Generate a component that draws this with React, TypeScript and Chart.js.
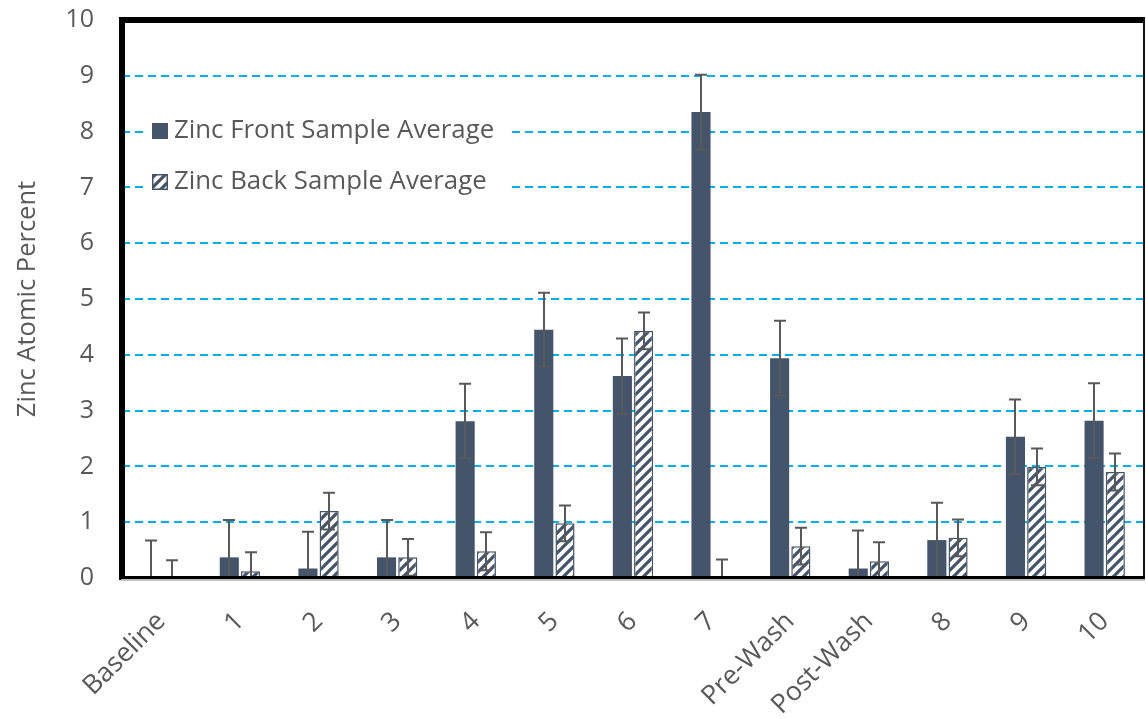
import React, { useEffect, useRef } from "react";
import { Chart, registerables } from "chart.js";

Chart.register(...registerables);

const categories = ["Baseline", "1", "2", "3", "4", "5", "6", "7", "Pre-Wash", "Post-Wash", "8", "9", "10"];
const frontValues = [0, 0.37, 0.17, 0.37, 2.81, 4.45, 3.62, 8.35, 3.94, 0.17, 0.68, 2.53, 2.82];
const frontErrors = [0.67, 0.67, 0.66, 0.67, 0.67, 0.66, 0.67, 0.67, 0.67, 0.68, 0.67, 0.67, 0.67];
const backValues = [0, 0.12, 1.2, 0.37, 0.48, 0.98, 4.43, 0, 0.57, 0.3, 0.72, 1.99, 1.9];
const backErrors = [0.32, 0.34, 0.33, 0.33, 0.34, 0.32, 0.33, 0.33, 0.33, 0.34, 0.33, 0.33, 0.33];
const seriesNames = ["Zinc Front Sample Average", "Zinc Back Sample Average"];
const yTickValues = [0, 1, 2, 3, 4, 5, 6, 7, 8, 9, 10];
const yTitle = "Zinc Atomic Percent";

const DARK = "#44546A";
const TEXT = "#595959";
const FONT = "'Open Sans', 'DejaVu Sans', sans-serif";

function makeHatch(): CanvasPattern | string {
  const c = document.createElement("canvas");
  c.width = 10;
  c.height = 10;
  const g = c.getContext("2d");
  if (!g) return "#fff";
  g.fillStyle = "#ffffff";
  g.fillRect(0, 0, 10, 10);
  g.strokeStyle = DARK;
  g.lineWidth = 3.2;
  g.lineCap = "square";
  g.beginPath();
  g.moveTo(0, 10);
  g.lineTo(10, 0);
  g.moveTo(-5, 5);
  g.lineTo(5, -5);
  g.moveTo(5, 15);
  g.lineTo(15, 5);
  g.stroke();
  return g.createPattern(c, "repeat") || "#fff";
}

export default function App() {
  const ref = useRef<HTMLCanvasElement | null>(null);

  useEffect(() => {
    if (!ref.current) return;
    const hatch = makeHatch();
    const errors = [frontErrors, backErrors];

    const errorBarPlugin = {
      id: "errorBars",
      afterDatasetsDraw(chart: any) {
        const ctx = chart.ctx;
        const y = chart.scales.y;
        const area = chart.chartArea;
        ctx.save();
        ctx.beginPath();
        ctx.rect(area.left, area.top, area.right - area.left, area.bottom - area.top);
        ctx.clip();
        ctx.strokeStyle = TEXT;
        ctx.lineWidth = 2;
        chart.data.datasets.forEach((ds: any, di: number) => {
          const meta = chart.getDatasetMeta(di);
          meta.data.forEach((bar: any, j: number) => {
            const v = ds.data[j];
            const e = errors[di][j];
            const yt = y.getPixelForValue(v + e);
            const yb = y.getPixelForValue(v - e);
            const x = Math.round(bar.x);
            ctx.beginPath();
            ctx.moveTo(x, yt);
            ctx.lineTo(x, yb);
            ctx.moveTo(x - 6, yt);
            ctx.lineTo(x + 6, yt);
            ctx.moveTo(x - 6, yb);
            ctx.lineTo(x + 6, yb);
            ctx.stroke();
          });
        });
        ctx.restore();
      },
    };

    const frameLegendPlugin = {
      id: "frameLegend",
      afterDraw(chart: any) {
        const ctx = chart.ctx;
        const a = chart.chartArea;
        ctx.save();
        // legend box
        ctx.fillStyle = "#ffffff";
        ctx.fillRect(143, 103, 364, 108);
        ctx.fillStyle = DARK;
        ctx.fillRect(152, 123, 16, 16);
        ctx.fillStyle = hatch as any;
        ctx.fillRect(152, 174, 16, 16);
        ctx.strokeStyle = DARK;
        ctx.lineWidth = 1.5;
        ctx.strokeRect(152.75, 174.75, 14.5, 14.5);
        ctx.fillStyle = TEXT;
        ctx.font = `25.8px ${FONT}`;
        ctx.textBaseline = "middle";
        ctx.textAlign = "left";
        ctx.fillText(seriesNames[0], 174, 131);
        ctx.fillText(seriesNames[1], 174, 182);
        // frame
        ctx.fillStyle = "#000000";
        ctx.fillRect(a.left - 3, a.top - 3, 6, a.bottom - a.top + 5);
        ctx.fillRect(a.left - 3, a.top - 3, a.right - a.left + 4, 6);
        ctx.fillStyle = "#111111";
        ctx.fillRect(a.right - 1, a.top - 3, 2, a.bottom - a.top + 4);
        ctx.fillStyle = "#000000";
        ctx.fillRect(a.left - 3, a.bottom - 2, a.right - a.left + 4, 3);
        ctx.fillStyle = "#bfbfbf";
        ctx.fillRect(a.left - 1, a.bottom + 1, a.right - a.left + 2, 2);
        ctx.restore();
      },
    };

    const chart = new Chart(ref.current, {
      type: "bar",
      data: {
        labels: categories,
        datasets: [
          {
            label: seriesNames[0],
            data: frontValues,
            backgroundColor: DARK,
            borderWidth: 0,
            categoryPercentage: 0.54,
            barPercentage: 0.9,
          },
          {
            label: seriesNames[1],
            data: backValues,
            backgroundColor: hatch as any,
            borderColor: DARK,
            borderWidth: 1.5,
            categoryPercentage: 0.54,
            barPercentage: 0.9,
          },
        ],
      },
      options: {
        animation: false,
        responsive: true,
        maintainAspectRatio: false,
        devicePixelRatio: 1,
        layout: { padding: { top: 20, right: 2, left: 0, bottom: 0 } },
        plugins: {
          legend: { display: false },
          tooltip: { enabled: false },
        },
        scales: {
          x: {
            grid: { display: false },
            border: { display: false },
            ticks: {
              color: TEXT,
              font: { family: FONT, size: 26.5 },
              minRotation: 45,
              maxRotation: 45,
              padding: 20,
            },
            afterFit(scale: any) {
              scale.height = 141;
              scale.paddingLeft = 0;
              scale.paddingRight = 0;
            },
          },
          y: {
            min: 0,
            max: 10,
            afterBuildTicks(scale: any) {
              scale.ticks = yTickValues.map((v) => ({ value: v }));
            },
            grid: {
              color: "#00B0F0",
              lineWidth: 2,
              drawTicks: false,
            },
            border: { display: false, dash: [8, 5] },
            ticks: {
              color: TEXT,
              font: { family: FONT, size: 25 },
              padding: 28,
            },
            title: {
              display: true,
              text: yTitle,
              color: TEXT,
              font: { family: FONT, size: 25.5 },
              padding: { top: 12, bottom: 0 },
            },
            afterFit(scale: any) {
              scale.width = 122;
              scale.paddingTop = 0;
              scale.paddingBottom = 0;
            },
          },
        },
      },
      plugins: [errorBarPlugin, frameLegendPlugin],
    } as any);

    return () => chart.destroy();
  }, []);

  return (
    <div style={{ position: "fixed", left: 0, top: 0, width: 1146, height: 719, background: "#fff" }}>
      <canvas ref={ref} />
    </div>
  );
}
